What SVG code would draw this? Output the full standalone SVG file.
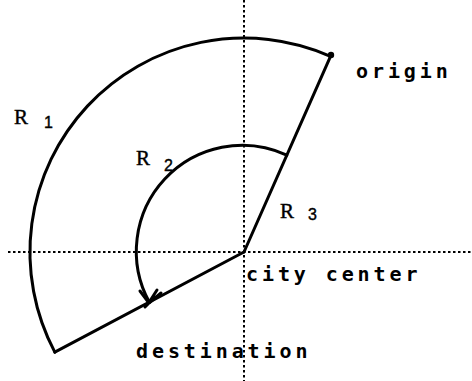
<svg xmlns="http://www.w3.org/2000/svg" width="472" height="381" viewBox="0 0 472 381">
<style>
.axis{stroke:#000;stroke-width:2;stroke-dasharray:2.5 2.5;fill:none}
.line{stroke:#000;stroke-width:3;fill:none;stroke-linecap:round;stroke-linejoin:round}
.lbl{font-family:"Liberation Serif","DejaVu Serif",serif;font-size:21px;fill:#000;stroke:#000;stroke-width:0.4}
.sub{font-family:"Liberation Sans","DejaVu Sans",sans-serif;font-size:16px;fill:#000;stroke:#000;stroke-width:0.4}
.word{font-family:"DejaVu Sans Mono","Liberation Mono",monospace;font-weight:bold;font-size:20px;letter-spacing:3.9px;fill:#000}
</style>
<rect width="472" height="381" fill="#fff"/>
<g id="axes">
<line class="axis" x1="8" y1="252" x2="472" y2="252"/>
<line class="axis" x1="244" y1="0" x2="244" y2="381"/>
</g>
<g id="connectors">
<path id="outer-arc-R1" class="line" d="M330.5 56.3 A214 214 0 0 0 54.8 352.1"/>
<path id="ray-origin" class="line" d="M330.5 56.3 L244 252"/>
<path id="ray-destination" class="line" d="M244 252 L54.8 352.1"/>
<path id="inner-arc-R2" class="line" d="M286.8 155.1 A106 106 0 0 0 149.5 302.5"/>
<path id="arrowhead" class="line" d="M140 291 L149 303 L161 293 M157 290 L148 304 L145 307"/>
</g>
<g id="origin">
<circle cx="331" cy="55" r="3.2" fill="#000"/>
<text class="word" x="356" y="78">origin</text>
</g>
<g id="city-center"><text class="word" x="246" y="281">city center</text></g>
<g id="destination"><text class="word" x="136" y="358">destination</text></g>
<g id="labels">
<text class="lbl" x="14" y="124">R</text><text class="sub" x="44" y="128">1</text>
<text class="lbl" x="136" y="165">R</text><text class="sub" x="164" y="171">2</text>
<text class="lbl" x="280" y="218">R</text><text class="sub" x="308" y="220">3</text>
</g>
</svg>
